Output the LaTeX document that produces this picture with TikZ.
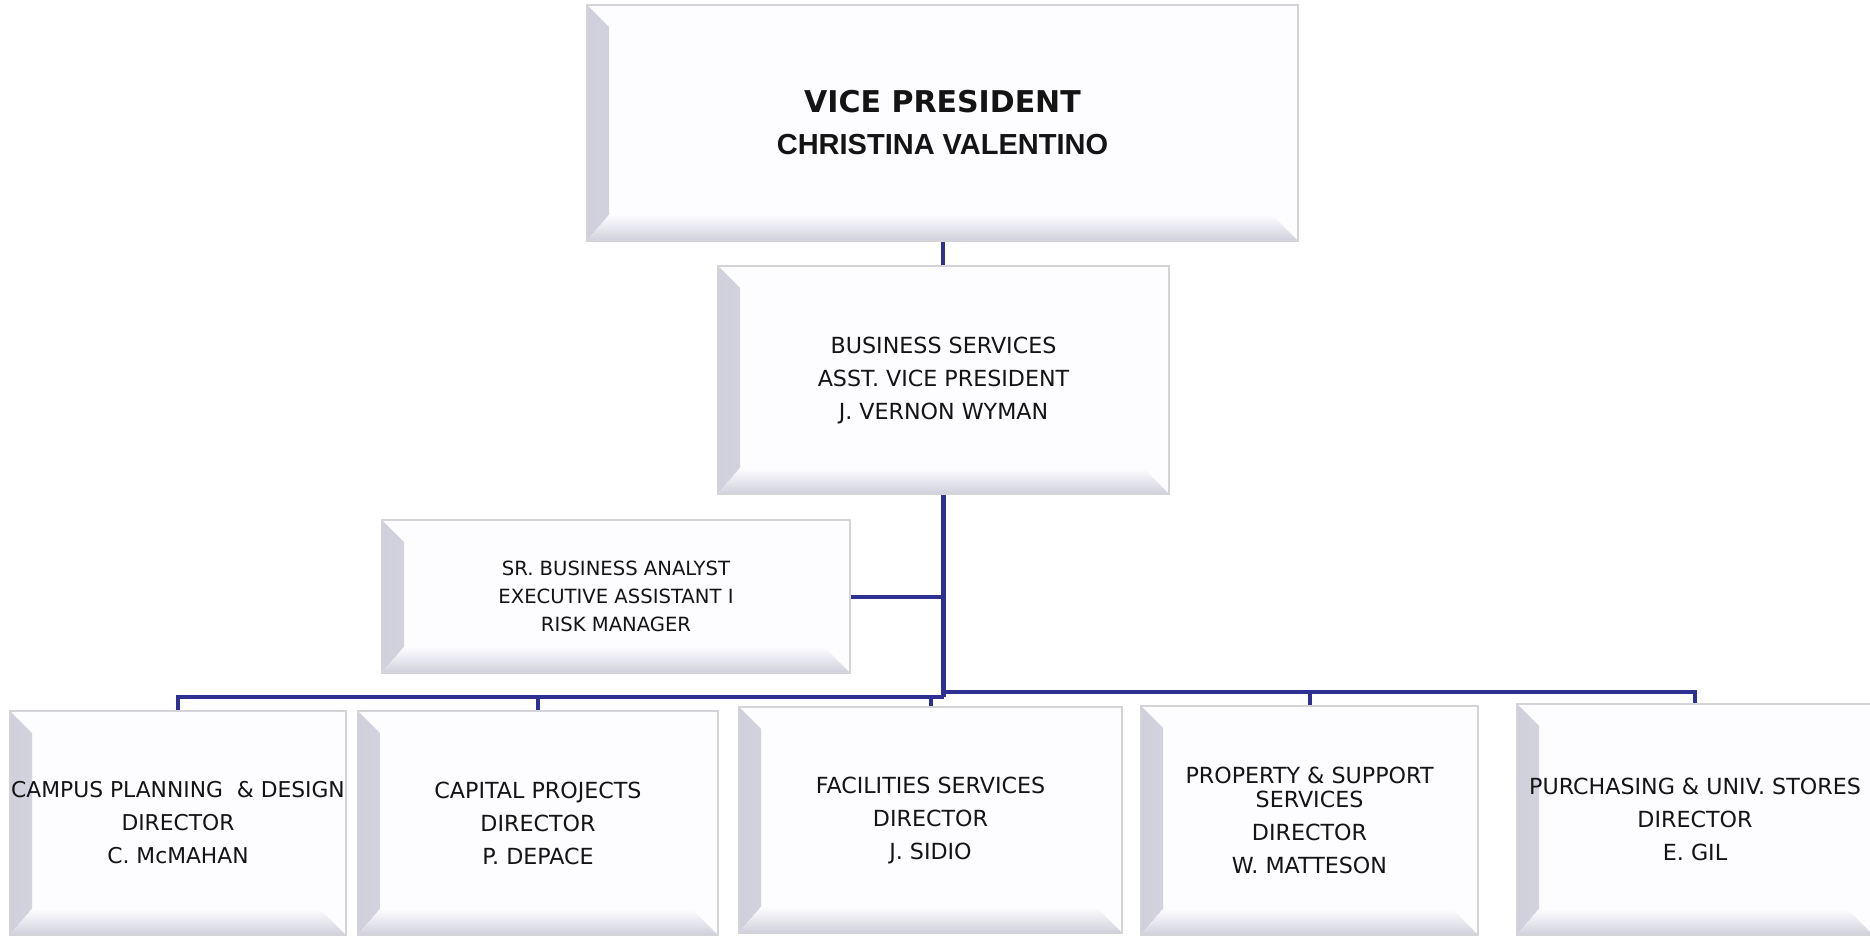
\documentclass[tikz,border=0pt]{standalone}
\usepackage{fontspec}
\setmainfont{DejaVu Sans}
\newfontfamily\arialfont{Liberation Sans}
\definecolor{linecol}{HTML}{2E3192}
\definecolor{boxborder}{HTML}{D4D4D8}
\definecolor{boxfill}{HTML}{FDFDFF}
\definecolor{bevelcol}{HTML}{D0D0DC}
\tikzset{
  orgbox/.style={draw=boxborder, line width=1pt, fill=boxfill, rectangle, inner sep=0pt, align=center,
    text=black!92,
    path picture={
      \fill[left color=bevelcol, right color=boxfill]
        (path picture bounding box.south west) -- (path picture bounding box.north west)
        -- ([xshift=11pt,yshift=-11pt]path picture bounding box.north west)
        -- ([xshift=11pt,yshift=13pt]path picture bounding box.south west) -- cycle;
      \fill[bottom color=bevelcol, top color=boxfill]
        (path picture bounding box.south west) -- ([xshift=11pt,yshift=13pt]path picture bounding box.south west)
        -- ([xshift=-13pt,yshift=13pt]path picture bounding box.south east)
        -- (path picture bounding box.south east) -- cycle;
    }},
  bodytext/.style={font={\fontsize{11.1}{16.5}\selectfont}},
  smalltext/.style={font={\fontsize{9.8}{14}\selectfont}},
  conn/.style={draw=linecol, line width=2pt},
  mainconn/.style={draw=linecol, line width=2.6pt}
}
\begin{document}
\begin{tikzpicture}[x=0.5pt,y=-0.5pt]
\useasboundingbox[fill=white] (0,0) rectangle (1870,937);

\node[orgbox, font={\fontsize{15}{21}\selectfont}, minimum width=355.5pt, minimum height=118pt] (vp) at (942.5,123)
  {\bfseries VICE PRESIDENT\\{\arialfont\bfseries\fontsize{14.5}{21}\selectfont CHRISTINA VALENTINO}};

\node[orgbox, bodytext, minimum width=225.5pt, minimum height=114pt] (bs) at (943.5,380)
  {BUSINESS SERVICES\\ASST. VICE PRESIDENT\\J. VERNON WYMAN};

\node[orgbox, smalltext, minimum width=234pt, minimum height=76.5pt] (staff) at (616,596.5)
  {SR. BUSINESS ANALYST\\EXECUTIVE ASSISTANT I\\RISK MANAGER};

\node[orgbox, font={\fontsize{10.9}{16.5}\selectfont}, minimum width=168pt, minimum height=112pt] (b1) at (178,823)
  {CAMPUS PLANNING\ \ \& DESIGN\\DIRECTOR\\C. McMAHAN};
\node[orgbox, bodytext, minimum width=180pt, minimum height=112pt] (b2) at (538,823)
  {CAPITAL PROJECTS\\DIRECTOR\\P. DEPACE};
\node[orgbox, bodytext, minimum width=191.5pt, minimum height=113pt] (b3) at (930.5,820)
  {FACILITIES SERVICES\\DIRECTOR\\J. SIDIO};
\node[orgbox, bodytext, minimum width=168.5pt, minimum height=114.5pt] (b4) at (1309.5,820.5)
  {PROPERTY \& SUPPORT\\[-4.8pt]SERVICES\\DIRECTOR\\W. MATTESON};
\node[orgbox, bodytext, minimum width=178pt, minimum height=115.5pt] (b5) at (1695,819.5)
  {PURCHASING \& UNIV. STORES\\DIRECTOR\\E. GIL};

% connectors
\draw[conn] (vp.south) -- (vp.south |- bs.north);
\coordinate (hubR) at (bs.south |- 0,692);
\coordinate (hubL) at (bs.south |- 0,697);
\draw[mainconn] (bs.south) -- (hubL);
\draw[conn] (staff.east) -- (staff.east -| bs.south);
\draw[conn] (b1.north) |- (hubL);
\draw[conn] (b2.north) -- (b2.north |- hubL);
\draw[conn] (b3.north) -- (b3.north |- hubL);
\draw[conn] (hubR) -| (b5.north);
\draw[conn] (b4.north) -- (b4.north |- hubR);
\end{tikzpicture}
\end{document}
